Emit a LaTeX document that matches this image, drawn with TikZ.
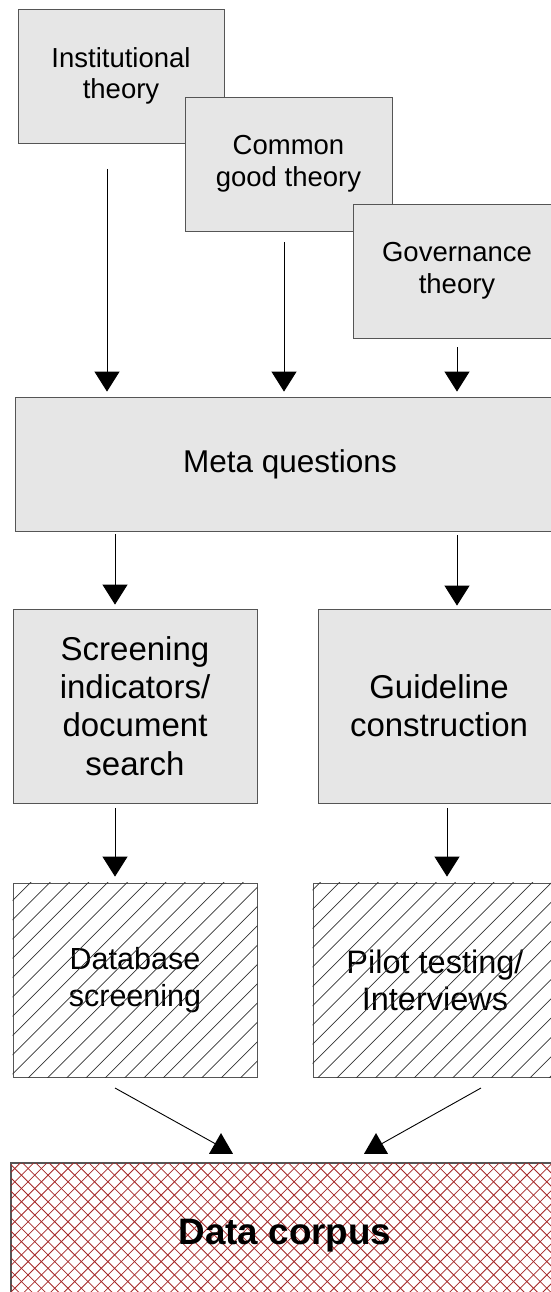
\documentclass[tikz,border=0pt]{standalone}
\usepackage{fontspec}
\setmainfont{Liberation Sans}
\usetikzlibrary{arrows.meta,shapes.geometric}
\definecolor{boxgray}{RGB}{230,230,230}
\definecolor{edgegray}{RGB}{85,85,85}
\definecolor{hatchred}{RGB}{165,40,40}

\begin{document}
\begin{tikzpicture}[x=1pt,y=-1pt,
  box/.style={draw=edgegray, line width=0.8pt, fill=boxgray, rectangle, inner sep=0pt, align=center},
  plainbox/.style={draw=edgegray, line width=0.8pt, rectangle, inner sep=0pt, align=center},
  small/.style={font=\fontsize{27.5}{31.5}\selectfont},
  big/.style={font=\fontsize{33}{38.3}\selectfont},
  arr/.style={draw=black, line width=0.9pt, -{Triangle[width=25pt,length=20pt]}},
  link/.style={draw=black, line width=0.9pt},
  uptip/.style={regular polygon, regular polygon sides=3, minimum size=27.7pt, inner sep=0pt, outer sep=0pt, fill=black},
  hatch/.style={draw=black!80, line width=0.7pt},
  cross/.style={draw=hatchred, line width=0.8pt}
]
\useasboundingbox (0,0) rectangle (551,1292);

% theory boxes, stacked so each one overlaps the previous
\node[box, small, minimum width=206pt, minimum height=134pt] (inst) at (121,76) {Institutional\\theory};
\node[box, small, minimum width=207pt, minimum height=134pt] (common) at (288.5,164) {Common\\good theory};
\node[box, small, minimum width=208pt, minimum height=134pt] (gov) at (457,271) {Governance\\theory};

% meta questions
\node[box, font=\fontsize{31.5}{36}\selectfont, minimum width=550pt, minimum height=134pt] (meta) at (290,464) {Meta questions};

% second row
\node[box, big, minimum width=244pt, minimum height=194pt] (screen) at (135,706) {Screening\\indicators/\\document\\search};
\node[box, big, minimum width=242pt, minimum height=194pt] (guide) at (439,706) {Guideline\\construction};

% hatched row
\node[plainbox, font=\fontsize{30.5}{36.5}\selectfont, minimum width=244pt, minimum height=194pt] (db) at (135,980) {Database\\screening};
\node[plainbox, font=\fontsize{32.5}{37}\selectfont, minimum width=244pt, minimum height=194pt] (pilot) at (435,980) {Pilot testing/\\Interviews};

\begin{scope}
  \clip (db.south west) rectangle (db.north east);
  \foreach \c in {893.7,913.0,...,1360}
    \draw[hatch] ({\c-1100},1100) -- ({\c-860},860);
\end{scope}
\begin{scope}
  \clip (pilot.south west) rectangle (pilot.north east);
  \foreach \c in {1163.9,1183.2,...,1680}
    \draw[hatch] ({\c-1100},1100) -- ({\c-860},860);
\end{scope}

% data corpus with cross hatching
\node[plainbox, minimum width=548pt, minimum height=140pt] (corpus) at (285,1233) {};
\begin{scope}
  \clip (corpus.south west) rectangle (corpus.north east);
  \foreach \c in {1170,1183.3,...,1880}
    \draw[cross] ({\c-1320},1320) -- ({\c-1150},1150);
  \foreach \d in {-1300,-1286.7,...,-590}
    \draw[cross] ({\d+1150},1150) -- ({\d+1320},1320);
\end{scope}
\draw[draw=edgegray, line width=0.8pt] (corpus.south west) |- (corpus.north east);
\node[font=\fontsize{36.8}{40}\selectfont\bfseries] (corpustext) at (285,1236) {Data corpus};

% connectors from the theories to the meta questions
\coordinate (s1) at (107,169);
\coordinate (s2) at (284,242);
\coordinate (s3) at (457,347);
\draw[arr, shorten >=5pt] (s1) -- (s1 |- meta.north);
\draw[arr, shorten >=5pt] (s2) -- (s2 |- meta.north);
\draw[arr, shorten >=5pt] (s3) -- (s3 |- meta.north);

% meta questions to second row
\coordinate (m1) at (115,534);
\coordinate (m2) at (457,535);
\draw[arr, shorten >=4pt] (m1) -- (m1 |- screen.north);
\draw[arr, shorten >=3pt] (m2) -- (m2 |- guide.north);

% second row to hatched row
\coordinate (r1) at (115,808);
\coordinate (r2) at (447,808);
\draw[arr, shorten >=6pt] (r1) -- (r1 |- db.north);
\draw[arr, shorten >=6pt] (r2) -- (r2 |- pilot.north);

% hatched row to the data corpus
\node[uptip] (t1) at (221,1146.9) {};
\node[uptip] (t2) at (376,1146.9) {};
\coordinate (b1) at (115,1088);
\coordinate (b2) at (481,1088);
\draw[link] (b1) -- (t1);
\draw[link] (b2) -- (t2);
\end{tikzpicture}
\end{document}
